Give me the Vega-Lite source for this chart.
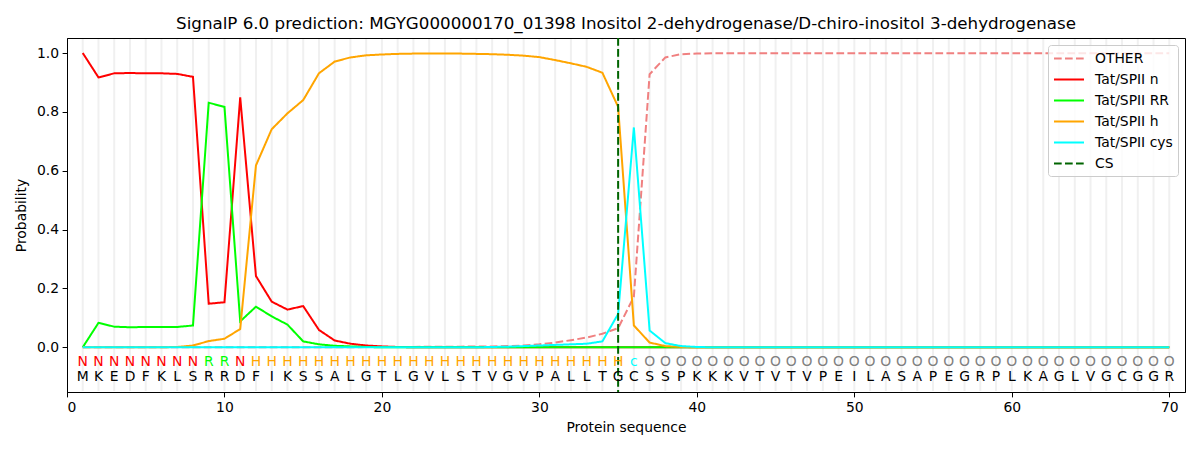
{
  "$schema": "https://vega.github.io/schema/vega-lite/v6.json",
  "description": "SignalP 6.0 per-residue probabilities for a Tat/SPII lipoprotein signal peptide.",
  "width": 1118,
  "height": 354,
  "autosize": "none",
  "padding": {"left": 67, "top": 38, "right": 15, "bottom": 58},
  "title": {
    "text": "SignalP 6.0 prediction: MGYG000000170_01398 Inositol 2-dehydrogenase/D-chiro-inositol 3-dehydrogenase",
    "fontSize": 16.7,
    "fontWeight": "normal",
    "font": "DejaVu Sans",
    "color": "black",
    "anchor": "middle",
    "offset": 4
  },
  "datasets": {
    "probs": [
      {"pos": 1, "aa": "M", "lab": "N", "OTHER": 0, "Tat/SPII n": 1.0, "Tat/SPII RR": 0.0, "Tat/SPII h": 0.0, "Tat/SPII cys": 0},
      {"pos": 2, "aa": "K", "lab": "N", "OTHER": 0, "Tat/SPII n": 0.917, "Tat/SPII RR": 0.083, "Tat/SPII h": 0.0, "Tat/SPII cys": 0},
      {"pos": 3, "aa": "E", "lab": "N", "OTHER": 0, "Tat/SPII n": 0.931, "Tat/SPII RR": 0.07, "Tat/SPII h": 0.0, "Tat/SPII cys": 0},
      {"pos": 4, "aa": "D", "lab": "N", "OTHER": 0, "Tat/SPII n": 0.932, "Tat/SPII RR": 0.068, "Tat/SPII h": 0.0, "Tat/SPII cys": 0},
      {"pos": 5, "aa": "F", "lab": "N", "OTHER": 0, "Tat/SPII n": 0.931, "Tat/SPII RR": 0.069, "Tat/SPII h": 0.0, "Tat/SPII cys": 0},
      {"pos": 6, "aa": "K", "lab": "N", "OTHER": 0, "Tat/SPII n": 0.931, "Tat/SPII RR": 0.069, "Tat/SPII h": 0.0, "Tat/SPII cys": 0},
      {"pos": 7, "aa": "L", "lab": "N", "OTHER": 0, "Tat/SPII n": 0.929, "Tat/SPII RR": 0.069, "Tat/SPII h": 0.001, "Tat/SPII cys": 0},
      {"pos": 8, "aa": "S", "lab": "N", "OTHER": 0, "Tat/SPII n": 0.919, "Tat/SPII RR": 0.074, "Tat/SPII h": 0.006, "Tat/SPII cys": 0},
      {"pos": 9, "aa": "R", "lab": "R", "OTHER": 0, "Tat/SPII n": 0.148, "Tat/SPII RR": 0.831, "Tat/SPII h": 0.021, "Tat/SPII cys": 0},
      {"pos": 10, "aa": "R", "lab": "R", "OTHER": 0, "Tat/SPII n": 0.153, "Tat/SPII RR": 0.817, "Tat/SPII h": 0.029, "Tat/SPII cys": 0},
      {"pos": 11, "aa": "D", "lab": "N", "OTHER": 0, "Tat/SPII n": 0.849, "Tat/SPII RR": 0.088, "Tat/SPII h": 0.062, "Tat/SPII cys": 0},
      {"pos": 12, "aa": "F", "lab": "H", "OTHER": 0, "Tat/SPII n": 0.242, "Tat/SPII RR": 0.138, "Tat/SPII h": 0.618, "Tat/SPII cys": 0},
      {"pos": 13, "aa": "I", "lab": "H", "OTHER": 0, "Tat/SPII n": 0.155, "Tat/SPII RR": 0.105, "Tat/SPII h": 0.741, "Tat/SPII cys": 0},
      {"pos": 14, "aa": "K", "lab": "H", "OTHER": 0, "Tat/SPII n": 0.128, "Tat/SPII RR": 0.077, "Tat/SPII h": 0.795, "Tat/SPII cys": 0},
      {"pos": 15, "aa": "S", "lab": "H", "OTHER": 0, "Tat/SPII n": 0.14, "Tat/SPII RR": 0.02, "Tat/SPII h": 0.84, "Tat/SPII cys": 0},
      {"pos": 16, "aa": "S", "lab": "H", "OTHER": 0, "Tat/SPII n": 0.059, "Tat/SPII RR": 0.01, "Tat/SPII h": 0.931, "Tat/SPII cys": 0},
      {"pos": 17, "aa": "A", "lab": "H", "OTHER": 0, "Tat/SPII n": 0.023, "Tat/SPII RR": 0.005, "Tat/SPII h": 0.971, "Tat/SPII cys": 0},
      {"pos": 18, "aa": "L", "lab": "H", "OTHER": 0, "Tat/SPII n": 0.012, "Tat/SPII RR": 0.003, "Tat/SPII h": 0.985, "Tat/SPII cys": 0},
      {"pos": 19, "aa": "G", "lab": "H", "OTHER": 0.001, "Tat/SPII n": 0.006, "Tat/SPII RR": 0.001, "Tat/SPII h": 0.992, "Tat/SPII cys": 0},
      {"pos": 20, "aa": "T", "lab": "H", "OTHER": 0.001, "Tat/SPII n": 0.003, "Tat/SPII RR": 0.0, "Tat/SPII h": 0.995, "Tat/SPII cys": 0},
      {"pos": 21, "aa": "L", "lab": "H", "OTHER": 0.001, "Tat/SPII n": 0.001, "Tat/SPII RR": 0.0, "Tat/SPII h": 0.997, "Tat/SPII cys": 0},
      {"pos": 22, "aa": "G", "lab": "H", "OTHER": 0.001, "Tat/SPII n": 0.0, "Tat/SPII RR": 0.0, "Tat/SPII h": 0.998, "Tat/SPII cys": 0},
      {"pos": 23, "aa": "V", "lab": "H", "OTHER": 0.002, "Tat/SPII n": 0.0, "Tat/SPII RR": 0.0, "Tat/SPII h": 0.998, "Tat/SPII cys": 0},
      {"pos": 24, "aa": "L", "lab": "H", "OTHER": 0.002, "Tat/SPII n": 0.0, "Tat/SPII RR": 0.0, "Tat/SPII h": 0.998, "Tat/SPII cys": 0},
      {"pos": 25, "aa": "S", "lab": "H", "OTHER": 0.002, "Tat/SPII n": 0.0, "Tat/SPII RR": 0.0, "Tat/SPII h": 0.998, "Tat/SPII cys": 0},
      {"pos": 26, "aa": "T", "lab": "H", "OTHER": 0.003, "Tat/SPII n": 0.0, "Tat/SPII RR": 0.0, "Tat/SPII h": 0.997, "Tat/SPII cys": 0},
      {"pos": 27, "aa": "V", "lab": "H", "OTHER": 0.003, "Tat/SPII n": 0.0, "Tat/SPII RR": 0.0, "Tat/SPII h": 0.996, "Tat/SPII cys": 0.001},
      {"pos": 28, "aa": "G", "lab": "H", "OTHER": 0.004, "Tat/SPII n": 0.0, "Tat/SPII RR": 0.0, "Tat/SPII h": 0.994, "Tat/SPII cys": 0.002},
      {"pos": 29, "aa": "V", "lab": "H", "OTHER": 0.006, "Tat/SPII n": 0.0, "Tat/SPII RR": 0.0, "Tat/SPII h": 0.991, "Tat/SPII cys": 0.004},
      {"pos": 30, "aa": "P", "lab": "H", "OTHER": 0.01, "Tat/SPII n": 0.0, "Tat/SPII RR": 0.0, "Tat/SPII h": 0.986, "Tat/SPII cys": 0.006},
      {"pos": 31, "aa": "A", "lab": "H", "OTHER": 0.016, "Tat/SPII n": 0.0, "Tat/SPII RR": 0.0, "Tat/SPII h": 0.976, "Tat/SPII cys": 0.008},
      {"pos": 32, "aa": "L", "lab": "H", "OTHER": 0.024, "Tat/SPII n": 0.0, "Tat/SPII RR": 0.0, "Tat/SPII h": 0.965, "Tat/SPII cys": 0.01},
      {"pos": 33, "aa": "L", "lab": "H", "OTHER": 0.033, "Tat/SPII n": 0.0, "Tat/SPII RR": 0.0, "Tat/SPII h": 0.953, "Tat/SPII cys": 0.012},
      {"pos": 34, "aa": "T", "lab": "H", "OTHER": 0.046, "Tat/SPII n": 0.0, "Tat/SPII RR": 0.0, "Tat/SPII h": 0.933, "Tat/SPII cys": 0.02},
      {"pos": 35, "aa": "G", "lab": "H", "OTHER": 0.065, "Tat/SPII n": 0.0, "Tat/SPII RR": 0.0, "Tat/SPII h": 0.817, "Tat/SPII cys": 0.113},
      {"pos": 36, "aa": "C", "lab": "c", "OTHER": 0.172, "Tat/SPII n": 0.0, "Tat/SPII RR": 0.0, "Tat/SPII h": 0.074, "Tat/SPII cys": 0.747},
      {"pos": 37, "aa": "S", "lab": "O", "OTHER": 0.928, "Tat/SPII n": 0.0, "Tat/SPII RR": 0.0, "Tat/SPII h": 0.016, "Tat/SPII cys": 0.057},
      {"pos": 38, "aa": "S", "lab": "O", "OTHER": 0.985, "Tat/SPII n": 0.0, "Tat/SPII RR": 0.0, "Tat/SPII h": 0.004, "Tat/SPII cys": 0.014},
      {"pos": 39, "aa": "P", "lab": "O", "OTHER": 0.996, "Tat/SPII n": 0.0, "Tat/SPII RR": 0.0, "Tat/SPII h": 0.001, "Tat/SPII cys": 0.004},
      {"pos": 40, "aa": "K", "lab": "O", "OTHER": 0.998, "Tat/SPII n": 0.0, "Tat/SPII RR": 0.0, "Tat/SPII h": 0.0, "Tat/SPII cys": 0.001},
      {"pos": 41, "aa": "K", "lab": "O", "OTHER": 0.999, "Tat/SPII n": 0.0, "Tat/SPII RR": 0.0, "Tat/SPII h": 0.0, "Tat/SPII cys": 0},
      {"pos": 42, "aa": "K", "lab": "O", "OTHER": 0.999, "Tat/SPII n": 0.0, "Tat/SPII RR": 0.0, "Tat/SPII h": 0.0, "Tat/SPII cys": 0},
      {"pos": 43, "aa": "V", "lab": "O", "OTHER": 0.999, "Tat/SPII n": 0.0, "Tat/SPII RR": 0.0, "Tat/SPII h": 0.0, "Tat/SPII cys": 0},
      {"pos": 44, "aa": "T", "lab": "O", "OTHER": 0.999, "Tat/SPII n": 0.0, "Tat/SPII RR": 0.0, "Tat/SPII h": 0.0, "Tat/SPII cys": 0},
      {"pos": 45, "aa": "V", "lab": "O", "OTHER": 0.999, "Tat/SPII n": 0.0, "Tat/SPII RR": 0.0, "Tat/SPII h": 0.0, "Tat/SPII cys": 0},
      {"pos": 46, "aa": "T", "lab": "O", "OTHER": 0.999, "Tat/SPII n": 0.0, "Tat/SPII RR": 0.0, "Tat/SPII h": 0.0, "Tat/SPII cys": 0},
      {"pos": 47, "aa": "V", "lab": "O", "OTHER": 0.999, "Tat/SPII n": 0.0, "Tat/SPII RR": 0.0, "Tat/SPII h": 0.0, "Tat/SPII cys": 0},
      {"pos": 48, "aa": "P", "lab": "O", "OTHER": 0.999, "Tat/SPII n": 0.0, "Tat/SPII RR": 0.0, "Tat/SPII h": 0.0, "Tat/SPII cys": 0},
      {"pos": 49, "aa": "E", "lab": "O", "OTHER": 0.999, "Tat/SPII n": 0.0, "Tat/SPII RR": 0.0, "Tat/SPII h": 0.0, "Tat/SPII cys": 0},
      {"pos": 50, "aa": "I", "lab": "O", "OTHER": 0.999, "Tat/SPII n": 0.0, "Tat/SPII RR": 0.0, "Tat/SPII h": 0.0, "Tat/SPII cys": 0},
      {"pos": 51, "aa": "L", "lab": "O", "OTHER": 0.999, "Tat/SPII n": 0.0, "Tat/SPII RR": 0.0, "Tat/SPII h": 0.0, "Tat/SPII cys": 0},
      {"pos": 52, "aa": "A", "lab": "O", "OTHER": 0.999, "Tat/SPII n": 0.0, "Tat/SPII RR": 0.0, "Tat/SPII h": 0.0, "Tat/SPII cys": 0},
      {"pos": 53, "aa": "S", "lab": "O", "OTHER": 0.999, "Tat/SPII n": 0.0, "Tat/SPII RR": 0.0, "Tat/SPII h": 0.0, "Tat/SPII cys": 0},
      {"pos": 54, "aa": "A", "lab": "O", "OTHER": 0.999, "Tat/SPII n": 0.0, "Tat/SPII RR": 0.0, "Tat/SPII h": 0.0, "Tat/SPII cys": 0},
      {"pos": 55, "aa": "P", "lab": "O", "OTHER": 0.999, "Tat/SPII n": 0.0, "Tat/SPII RR": 0.0, "Tat/SPII h": 0.0, "Tat/SPII cys": 0},
      {"pos": 56, "aa": "E", "lab": "O", "OTHER": 0.999, "Tat/SPII n": 0.0, "Tat/SPII RR": 0.0, "Tat/SPII h": 0.0, "Tat/SPII cys": 0},
      {"pos": 57, "aa": "G", "lab": "O", "OTHER": 0.999, "Tat/SPII n": 0.0, "Tat/SPII RR": 0.0, "Tat/SPII h": 0.0, "Tat/SPII cys": 0},
      {"pos": 58, "aa": "R", "lab": "O", "OTHER": 0.999, "Tat/SPII n": 0.0, "Tat/SPII RR": 0.0, "Tat/SPII h": 0.0, "Tat/SPII cys": 0},
      {"pos": 59, "aa": "P", "lab": "O", "OTHER": 0.999, "Tat/SPII n": 0.0, "Tat/SPII RR": 0.0, "Tat/SPII h": 0.0, "Tat/SPII cys": 0},
      {"pos": 60, "aa": "L", "lab": "O", "OTHER": 0.999, "Tat/SPII n": 0.0, "Tat/SPII RR": 0.0, "Tat/SPII h": 0.0, "Tat/SPII cys": 0},
      {"pos": 61, "aa": "K", "lab": "O", "OTHER": 0.999, "Tat/SPII n": 0.0, "Tat/SPII RR": 0.0, "Tat/SPII h": 0.0, "Tat/SPII cys": 0},
      {"pos": 62, "aa": "A", "lab": "O", "OTHER": 0.999, "Tat/SPII n": 0.0, "Tat/SPII RR": 0.0, "Tat/SPII h": 0.0, "Tat/SPII cys": 0},
      {"pos": 63, "aa": "G", "lab": "O", "OTHER": 0.999, "Tat/SPII n": 0.0, "Tat/SPII RR": 0.0, "Tat/SPII h": 0.0, "Tat/SPII cys": 0},
      {"pos": 64, "aa": "L", "lab": "O", "OTHER": 0.999, "Tat/SPII n": 0.0, "Tat/SPII RR": 0.0, "Tat/SPII h": 0.0, "Tat/SPII cys": 0},
      {"pos": 65, "aa": "V", "lab": "O", "OTHER": 0.999, "Tat/SPII n": 0.0, "Tat/SPII RR": 0.0, "Tat/SPII h": 0.0, "Tat/SPII cys": 0},
      {"pos": 66, "aa": "G", "lab": "O", "OTHER": 0.999, "Tat/SPII n": 0.0, "Tat/SPII RR": 0.0, "Tat/SPII h": 0.0, "Tat/SPII cys": 0},
      {"pos": 67, "aa": "C", "lab": "O", "OTHER": 0.999, "Tat/SPII n": 0.0, "Tat/SPII RR": 0.0, "Tat/SPII h": 0.0, "Tat/SPII cys": 0},
      {"pos": 68, "aa": "G", "lab": "O", "OTHER": 0.999, "Tat/SPII n": 0.0, "Tat/SPII RR": 0.0, "Tat/SPII h": 0.0, "Tat/SPII cys": 0},
      {"pos": 69, "aa": "G", "lab": "O", "OTHER": 0.999, "Tat/SPII n": 0.0, "Tat/SPII RR": 0.0, "Tat/SPII h": 0.0, "Tat/SPII cys": 0},
      {"pos": 70, "aa": "R", "lab": "O", "OTHER": 0.999, "Tat/SPII n": 0.0, "Tat/SPII RR": 0.0, "Tat/SPII h": 0.0, "Tat/SPII cys": 0}
    ],
    "cs": [{"pos": 35, "series": "CS"}]
  },
  "data": {"name": "probs"},
  "encoding": {
    "x": {
      "field": "pos",
      "type": "quantitative",
      "scale": {"domain": [0, 71], "nice": false, "zero": false},
      "axis": {"title": "Protein sequence", "values": [0, 10, 20, 30, 40, 50, 60, 70], "grid": false}
    }
  },
  "layer": [
    {
      "mark": {"type": "rule", "color": "#f0f0f0", "strokeWidth": 2},
      "encoding": {
        "y": {"datum": 1.048, "type": "quantitative"},
        "y2": {"datum": -0.149}
      }
    },
    {
      "layer": [
        {
          "transform": [
            {"fold": ["OTHER", "Tat/SPII n", "Tat/SPII RR", "Tat/SPII h", "Tat/SPII cys"], "as": ["series", "p"]}
          ],
          "mark": {"type": "line", "strokeWidth": 2},
          "encoding": {
            "y": {
              "field": "p",
              "type": "quantitative",
              "scale": {"domain": [-0.152, 1.051], "nice": false, "zero": false},
              "axis": {"title": "Probability", "values": [0, 0.2, 0.4, 0.6, 0.8, 1.0], "format": ".1f", "grid": false}
            },
            "color": {
              "field": "series",
              "type": "nominal",
              "scale": {
                "domain": ["OTHER", "Tat/SPII n", "Tat/SPII RR", "Tat/SPII h", "Tat/SPII cys", "CS"],
                "range": ["#f08080", "#ff0000", "#00ff00", "#ffa500", "#00ffff", "#006400"]
              },
              "legend": {"title": null}
            },
            "strokeDash": {
              "field": "series",
              "type": "nominal",
              "scale": {
                "domain": ["OTHER", "Tat/SPII n", "Tat/SPII RR", "Tat/SPII h", "Tat/SPII cys", "CS"],
                "range": [[7.7, 3.3], [1, 0], [1, 0], [1, 0], [1, 0], [7.7, 3.3]]
              },
              "legend": {"title": null}
            }
          }
        },
        {
          "data": {"name": "cs"},
          "mark": {"type": "rule", "strokeWidth": 2},
          "encoding": {
            "color": {"field": "series", "type": "nominal", "legend": {"title": null}},
            "strokeDash": {"field": "series", "type": "nominal", "legend": {"title": null}}
          }
        }
      ]
    },
    {
      "mark": {"type": "text", "fontSize": 13.9, "baseline": "middle", "align": "center"},
      "encoding": {
        "y": {"datum": -0.049, "type": "quantitative"},
        "text": {"field": "lab"},
        "color": {
          "condition": [
            {"test": "datum.lab === 'N'", "value": "#ff0000"},
            {"test": "datum.lab === 'R'", "value": "#00ff00"},
            {"test": "datum.lab === 'H'", "value": "#ffa500"},
            {"test": "datum.lab === 'c'", "value": "#00ffff"}
          ],
          "value": "#808080"
        }
      }
    },
    {
      "mark": {"type": "text", "fontSize": 13.9, "baseline": "middle", "align": "center", "color": "black"},
      "encoding": {
        "y": {"datum": -0.1, "type": "quantitative"},
        "text": {"field": "aa"}
      }
    }
  ],
  "config": {
    "font": "DejaVu Sans",
    "view": {"stroke": "black", "strokeWidth": 1},
    "axis": {
      "domainColor": "black",
      "tickColor": "black",
      "tickSize": 4.9,
      "labelPadding": 3.5,
      "labelFontSize": 13.9,
      "labelColor": "black",
      "titleFontSize": 13.9,
      "titleFontWeight": "normal",
      "titleColor": "black"
    },
    "axisX": {"titlePadding": 6},
    "axisY": {"titlePadding": 8},
    "legend": {
      "orient": "top-right",
      "offset": 7,
      "padding": 5,
      "fillColor": "rgba(255,255,255,0.8)",
      "strokeColor": "#cccccc",
      "cornerRadius": 3,
      "symbolType": "M-1,0H3",
      "symbolSize": 225,
      "symbolStrokeWidth": 2,
      "labelFontSize": 13.9,
      "labelColor": "black",
      "labelOffset": 25,
      "rowPadding": 5
    }
  }
}
